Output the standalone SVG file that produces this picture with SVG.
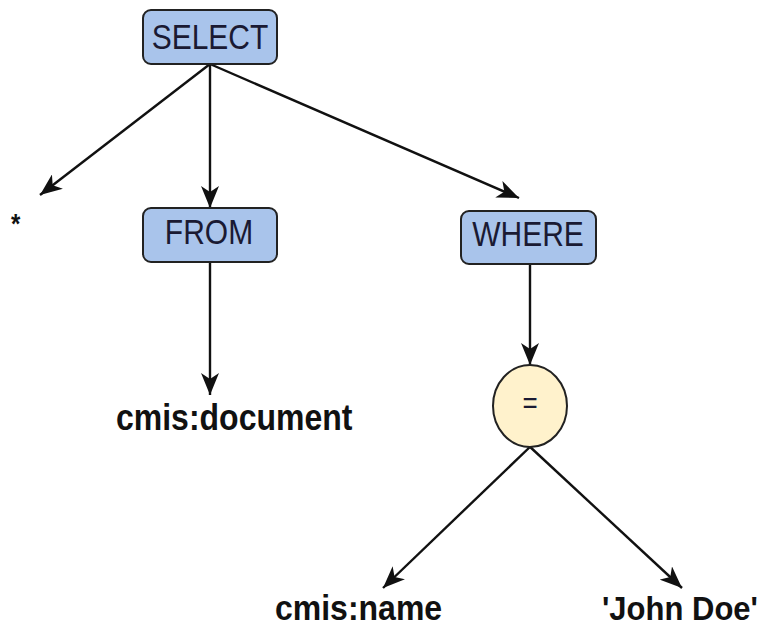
<svg xmlns="http://www.w3.org/2000/svg" width="761" height="628" viewBox="0 0 761 628">
  <style>
    .box { fill: #a9c4eb; stroke: #222; stroke-width: 2; }
    .op { fill: #fff2cc; stroke: #222; stroke-width: 2; }
    .lbl { font-family: "Liberation Sans", Arial, sans-serif; font-size: 30px; fill: #1a1a33; text-anchor: middle; }
    .leaf { font-family: "Liberation Sans", Arial, sans-serif; font-size: 32px; font-weight: bold; fill: #111; }
    .edge { stroke: #111; stroke-width: 2.4; fill: none; marker-end: url(#arrow); }
  </style>
  <defs>
    <marker id="arrow" viewBox="0 0 22 18" refX="22" refY="9" markerWidth="22" markerHeight="18" orient="auto" markerUnits="userSpaceOnUse">
      <path d="M0,0 L22,9 L0,18 L6,9 Z" fill="#111"/>
    </marker>
  </defs>
  <rect width="761" height="628" fill="#fff"/>

  <g id="connectors">
    <line class="edge" x1="210" y1="64" x2="40" y2="195"/>
    <line class="edge" x1="210" y1="64" x2="210" y2="208"/>
    <line class="edge" x1="210" y1="64" x2="519" y2="198"/>
    <line class="edge" x1="210" y1="262" x2="210" y2="395"/>
    <line class="edge" x1="530" y1="264" x2="530" y2="365"/>
    <line class="edge" x1="532" y1="445" x2="383" y2="588"/>
    <line class="edge" x1="528" y1="445" x2="682" y2="588"/>
  </g>

  <g id="select">
    <rect class="box" x="143" y="10" width="134" height="54" rx="8"/>
    <text class="lbl" transform="translate(210,49) scale(1,1.18)">SELECT</text>
  </g>

  <g id="star">
    <text class="leaf" transform="translate(11,233) scale(1,1.15)" style="font-size:24px">*</text>
  </g>

  <g id="from">
    <rect class="box" x="143" y="208" width="134" height="54" rx="8"/>
    <text class="lbl" transform="translate(209,244) scale(1,1.18)">FROM</text>
  </g>

  <g id="where">
    <rect class="box" x="461" y="211" width="135" height="53" rx="8"/>
    <text class="lbl" transform="translate(528,246) scale(1,1.18)">WHERE</text>
  </g>

  <g id="document">
    <text class="leaf" transform="translate(116,430) scale(1,1.15)">cmis:document</text>
  </g>

  <g id="equals">
    <ellipse class="op" cx="530" cy="406" rx="37" ry="41"/>
    <text class="lbl" transform="translate(530,413) scale(1,1.1)" style="font-size:26px">=</text>
  </g>

  <g id="name">
    <text class="leaf" transform="translate(275,620) scale(1,1.1)">cmis:name</text>
  </g>

  <g id="value">
    <text class="leaf" transform="translate(602,620) scale(1,1.1)" style="font-size:31px">'John Doe'</text>
  </g>
</svg>
